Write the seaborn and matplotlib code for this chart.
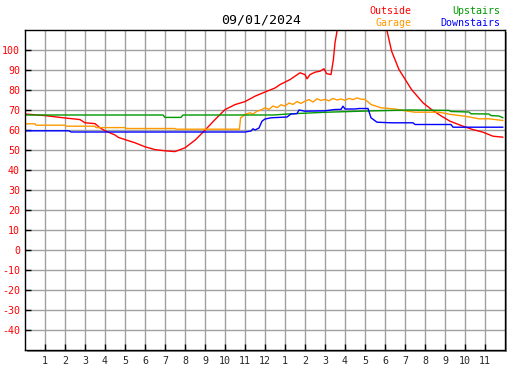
import matplotlib
matplotlib.use('Agg')
import matplotlib.pyplot as plt
from matplotlib.patches import Rectangle
import seaborn as sns

# readings, hours after midnight / degrees F
outside_hours = [0, 0.5, 1, 1.5, 2, 2.5, 2.75, 3, 3.5, 3.75, 4, 4.5, 4.67, 5, 5.5, 6, 6.5, 7, 7.5,
                 8, 8.5, 9, 9.5, 10, 10.5, 11, 11.5, 12, 12.5, 12.75, 13.25, 13.75, 14, 14.1, 14.25,
                 14.5, 14.75, 14.95, 15.08, 15.3, 15.42, 15.5, 15.62, 16, 16.5, 17, 17.5, 18.08,
                 18.33, 18.7, 19.33, 19.9, 20.33, 20.83, 21.25, 21.9, 22.4, 22.9, 23.4, 23.9]
outside_temps = [68, 67.6, 67.2, 66.6, 66, 65.5, 65.2, 63.6, 63.2, 61.1, 59.6, 57.5, 56.3, 55.2, 53.6,
                 51.6, 50.2, 49.6, 49.2, 51.1, 54.9, 59.9, 65.2, 70.2, 72.7, 74.2, 76.9, 79, 81, 82.7,
                 85.2, 88.6, 87.7, 85.6, 87.7, 88.9, 89.4, 90.6, 88.2, 87.7, 95.2, 103.6, 110.5, 116,
                 120, 121, 118, 110.5, 99.4, 90.2, 80.2, 73.6, 70.2, 66.9, 64.4, 61.9, 60.2, 58.9,
                 56.9, 56.4]

garage_hours = [0, 0.5, 0.55, 2, 2.05, 3.5, 3.55, 5, 5.05, 7.5, 7.55, 10.72, 10.78, 10.9, 11.0, 11.25,
                11.4, 11.6, 11.8, 12.0, 12.2, 12.4, 12.6, 12.8, 13.0, 13.2, 13.4, 13.6, 13.8, 14.0,
                14.2, 14.4, 14.6, 14.8, 15.0, 15.2, 15.4, 15.6, 15.8, 16.0, 16.2, 16.4, 16.6, 16.8,
                17.0, 17.3, 17.8, 18.5, 19.0, 19.5, 20.7, 21.3, 22.0, 22.7, 23.2, 23.9]
garage_temps = [63.1, 63.1, 62.4, 62.4, 61.9, 61.9, 61.2, 61.2, 60.75, 60.75, 60.4, 60.4, 66.1, 67.0,
                67.8, 68.6, 68.0, 69.4, 70.0, 71.1, 70.3, 72.0, 71.2, 72.6, 72.0, 73.5, 72.8, 74.2,
                73.3, 74.4, 75.2, 74.0, 75.6, 74.8, 75.3, 74.6, 75.8, 75.0, 75.5, 74.8, 75.8, 75.2,
                76.0, 75.4, 75.3, 72.75, 71.1, 70.5, 69.6, 68.9, 68.9, 67.75, 66.9, 65.6, 65.6, 64.75]

upstairs_hours = [0, 6.9, 7.0, 7.8, 7.9, 12.4, 13.3, 15.1, 17.5, 19.2, 21.2, 21.3, 22.2, 22.3, 23.2,
                  23.3, 23.7, 23.9]
upstairs_temps = [67.5, 67.5, 66.3, 66.3, 67.5, 67.5, 68.1, 68.9, 69.6, 70.0, 69.8, 69.25, 69.0, 68.1,
                  68.0, 67.2, 67.0, 66.1]

downstairs_hours = [0, 2.2, 2.3, 11.0, 11.3, 11.4, 11.5, 11.7, 11.85, 12.0, 12.3, 13.1, 13.3, 13.6,
                    13.7, 14.0, 15.0, 15.5, 15.8, 15.9, 16.0, 16.5, 16.7, 17.15, 17.3, 17.6, 18.3,
                    19.4, 19.5, 21.3, 21.4, 23.9]
downstairs_temps = [59.6, 59.6, 59.0, 59.0, 59.5, 60.6, 60.0, 61.0, 64.4, 65.5, 66.1, 66.5, 68.0, 68.2,
                    70.0, 69.4, 69.6, 70.25, 70.3, 71.9, 70.5, 70.5, 70.75, 70.75, 66.1, 63.9, 63.6,
                    63.6, 62.75, 62.75, 61.4, 61.4]

hour_labels = [str(h) for h in range(1, 12)] + ['12'] + [str(h) for h in range(1, 12)]

sns.set_style('white')
plt.rcParams['font.family'] = ['DejaVu Sans Mono']
plt.rcParams['axes.unicode_minus'] = False

W, H = 527, 370
fig = plt.figure(figsize=(W / 100, H / 100), dpi=100)
ax = fig.add_axes([25 / W, 20 / H, 480 / W, 320 / H])

# drop shadow behind the plot box
fig.patches.append(Rectangle((27 / W, 18 / H), 480 / W, 320 / H, transform=fig.transFigure,
                             facecolor='#8c8c8c', edgecolor='none', zorder=-5))

series = [
    (outside_hours, outside_temps, '#ff0000'),
    (garage_hours, garage_temps, '#ff9900'),
    (upstairs_hours, upstairs_temps, '#009900'),
    (downstairs_hours, downstairs_temps, '#0000ff'),
]
for hrs, temps, col in series:
    sns.lineplot(x=hrs, y=temps, ax=ax, color=col, lw=1.0, estimator=None, sort=False)

ax.set_xlim(0, 24)
ax.set_ylim(-50, 110)
ax.set_xticks(range(1, 24))
ax.set_xticklabels(hour_labels)
ax.set_yticks(range(-40, 101, 10))
ax.grid(True, color='#a0a0a0', lw=1)
ax.set_axisbelow(True)
for s in ax.spines.values():
    s.set_color('black')
    s.set_linewidth(1.0)
ax.tick_params(axis='both', direction='in', length=4, width=1, color='black', labelsize=7.2)
ax.tick_params(axis='y', labelcolor='#ff0000', pad=3.6, left=True)
ax.tick_params(axis='x', pad=4, bottom=True)
ax.set_xlabel('')
ax.set_ylabel('')

fig.text(261 / W, 1 - 20 / H, '09/01/2024', ha='center', va='center', fontsize=9.5, color='black')
fig.text(411 / W, 1 - 11.5 / H, 'Outside', ha='right', va='center', fontsize=7.2, color='#ff0000')
fig.text(411 / W, 1 - 23.5 / H, 'Garage', ha='right', va='center', fontsize=7.2, color='#ff9900')
fig.text(500 / W, 1 - 11.5 / H, 'Upstairs', ha='right', va='center', fontsize=7.2, color='#009900')
fig.text(500 / W, 1 - 23.5 / H, 'Downstairs', ha='right', va='center', fontsize=7.2, color='#0000ff')

fig.savefig('out.png', dpi=100)
